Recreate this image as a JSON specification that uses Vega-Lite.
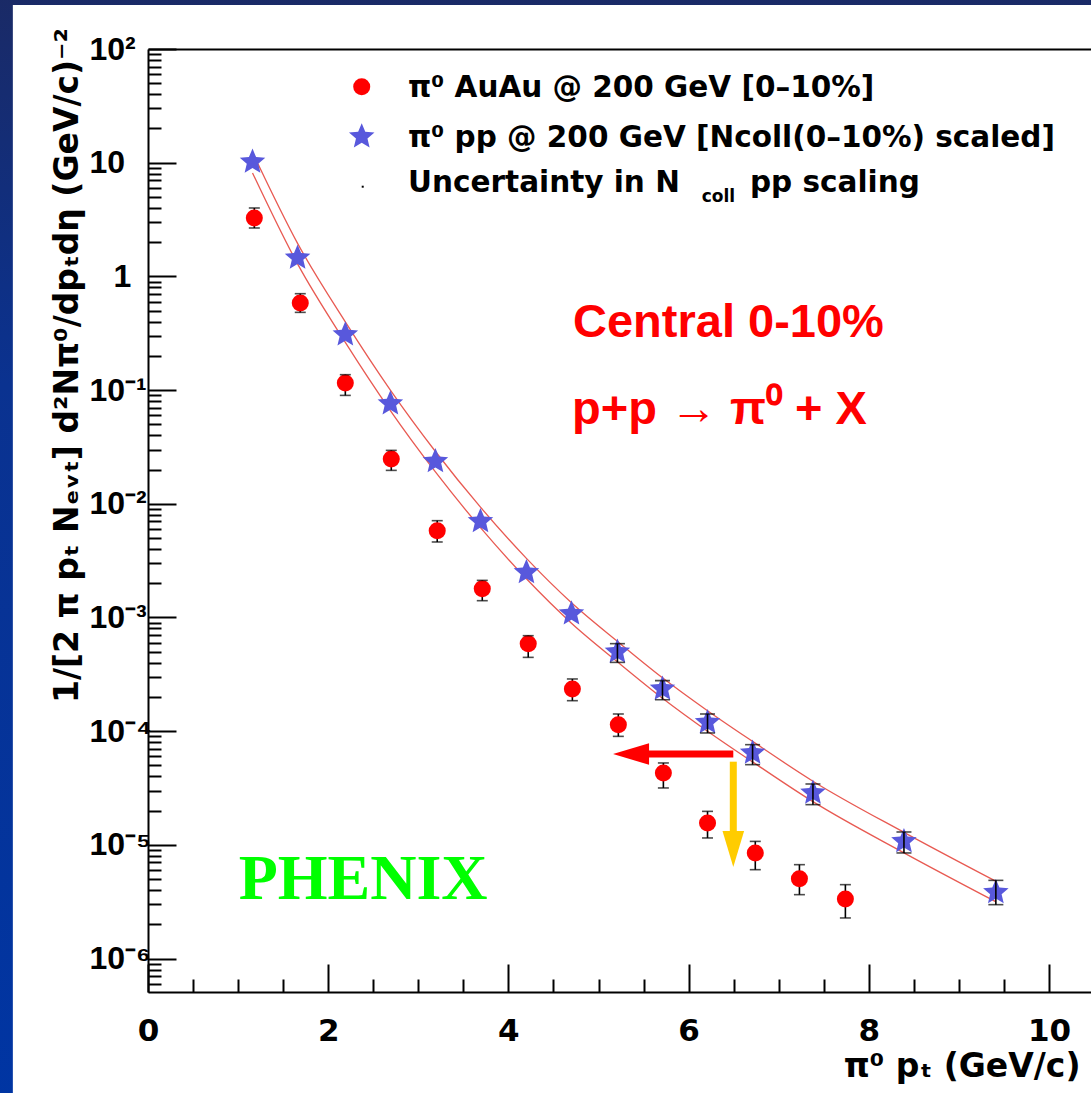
{
  "$schema": "https://vega.github.io/schema/vega-lite/v6.json",
  "width": 943,
  "height": 943,
  "autosize": {"type": "none"},
  "padding": {"left": 148, "top": 49, "right": 0, "bottom": 101},
  "background": "#0d2f8c",
  "config": {
    "view": {"stroke": null},
    "axis": {"grid": false, "domainColor": "black", "tickColor": "black", "labelColor": "black", "titleColor": "black"}
  },
  "datasets": {
    "auau": [
      {"pt": 1.18, "y": 3.263, "ylo": 2.665, "yhi": 3.996},
      {"pt": 1.69, "y": 0.5836, "ylo": 0.4826, "yhi": 0.7045},
      {"pt": 2.19, "y": 0.1155, "ylo": 0.0898, "yhi": 0.1366},
      {"pt": 2.70, "y": 0.02477, "ylo": 0.01967, "yhi": 0.02949},
      {"pt": 3.21, "y": 0.0058, "ylo": 0.004613, "yhi": 0.007102},
      {"pt": 3.71, "y": 0.001792, "ylo": 0.001405, "yhi": 0.00212},
      {"pt": 4.22, "y": 0.0005884, "ylo": 0.0004458, "yhi": 0.0006916},
      {"pt": 4.71, "y": 0.000235, "ylo": 0.0001854, "yhi": 0.0002878},
      {"pt": 5.22, "y": 0.0001141, "ylo": 0.00009, "yhi": 0.0001416},
      {"pt": 5.72, "y": 0.00004288, "ylo": 0.00003166, "yhi": 0.00005253},
      {"pt": 6.21, "y": 0.00001558, "ylo": 0.0000115, "yhi": 0.00001971},
      {"pt": 6.74, "y": 0.000008489, "ylo": 0.00000605, "yhi": 0.00001073},
      {"pt": 7.23, "y": 0.000005043, "ylo": 0.000003648, "yhi": 0.000006696},
      {"pt": 7.74, "y": 0.000003343, "ylo": 0.000002276, "yhi": 0.000004467}
    ],
    "pp": [
      {"pt": 1.16, "y": 10.14, "ylo": null, "yhi": null},
      {"pt": 1.66, "y": 1.451, "ylo": null, "yhi": null},
      {"pt": 2.19, "y": 0.3071, "ylo": null, "yhi": null},
      {"pt": 2.69, "y": 0.07596, "ylo": null, "yhi": null},
      {"pt": 3.19, "y": 0.0236, "ylo": null, "yhi": null},
      {"pt": 3.69, "y": 0.007001, "ylo": null, "yhi": null},
      {"pt": 4.20, "y": 0.002493, "ylo": null, "yhi": null},
      {"pt": 4.70, "y": 0.00108, "ylo": null, "yhi": null},
      {"pt": 5.21, "y": 0.0004972, "ylo": 0.0004027, "yhi": 0.0005884},
      {"pt": 5.71, "y": 0.000235, "ylo": 0.0001892, "yhi": 0.0002781},
      {"pt": 6.21, "y": 0.0001195, "ylo": 0.00009643, "yhi": 0.0001416},
      {"pt": 6.71, "y": 0.0000643, "ylo": 0.00005075, "yhi": 0.00007607},
      {"pt": 7.38, "y": 0.00002861, "ylo": 0.00002258, "yhi": 0.00003431},
      {"pt": 8.39, "y": 0.00001073, "ylo": 0.000008489, "yhi": 0.00001298},
      {"pt": 9.41, "y": 0.00000382, "ylo": 0.000002979, "yhi": 0.000004873}
    ],
    "band": [
      {"pt": 1.16, "bound": "upper", "y": 12.30},
      {"pt": 1.66, "bound": "upper", "y": 1.950},
      {"pt": 2.19, "bound": "upper", "y": 0.3981},
      {"pt": 2.69, "bound": "upper", "y": 0.1000},
      {"pt": 3.19, "bound": "upper", "y": 0.02884},
      {"pt": 3.69, "bound": "upper", "y": 0.009333},
      {"pt": 4.20, "bound": "upper", "y": 0.003311},
      {"pt": 4.70, "bound": "upper", "y": 0.001349},
      {"pt": 5.21, "bound": "upper", "y": 0.0006166},
      {"pt": 5.71, "bound": "upper", "y": 0.0002951},
      {"pt": 6.21, "bound": "upper", "y": 0.0001514},
      {"pt": 6.71, "bound": "upper", "y": 0.00008128},
      {"pt": 7.38, "bound": "upper", "y": 0.00003631},
      {"pt": 8.39, "bound": "upper", "y": 0.00001288},
      {"pt": 9.41, "bound": "upper", "y": 0.000004786},
      {"pt": 1.16, "bound": "lower", "y": 8.128},
      {"pt": 1.66, "bound": "lower", "y": 1.288},
      {"pt": 2.19, "bound": "lower", "y": 0.2630},
      {"pt": 2.69, "bound": "lower", "y": 0.06607},
      {"pt": 3.19, "bound": "lower", "y": 0.01905},
      {"pt": 3.69, "bound": "lower", "y": 0.006166},
      {"pt": 4.20, "bound": "lower", "y": 0.002188},
      {"pt": 4.70, "bound": "lower", "y": 0.0008913},
      {"pt": 5.21, "bound": "lower", "y": 0.0004074},
      {"pt": 5.71, "bound": "lower", "y": 0.000195},
      {"pt": 6.21, "bound": "lower", "y": 0.0001},
      {"pt": 6.71, "bound": "lower", "y": 0.0000537},
      {"pt": 7.38, "bound": "lower", "y": 0.00002399},
      {"pt": 8.39, "bound": "lower", "y": 0.000008511},
      {"pt": 9.41, "bound": "lower", "y": 0.000003162}
    ],
    "legendText": [
      {"x": 2.886, "y": 37.6, "label": "π⁰ AuAu @ 200 GeV [0–10%]"},
      {"x": 2.886, "y": 13.83, "label": "π⁰ pp @ 200 GeV [Ncoll(0–10%) scaled]"},
      {"x": 2.886, "y": 5.557, "label": "Uncertainty in N"},
      {"x": 6.681, "y": 5.557, "label": "pp scaling"}
    ]
  },
  "resolve": {"axis": {"x": "independent", "y": "independent"}},
  "layer": [
    {
      "data": {"values": [{}]},
      "mark": {"type": "rect", "fill": {"gradient": "linear", "x1": 0, "y1": 0, "x2": 0, "y2": 1, "stops": [{"offset": 0, "color": "#1a2a66"}, {"offset": 0.35, "color": "#0a3290"}, {"offset": 1, "color": "#0035a3"}]}},
      "encoding": {
        "x": {"datum": -2, "type": "quantitative", "scale": {"type": "linear", "domain": [0, 10.466], "nice": false, "zero": false}, "axis": null},
        "x2": {"datum": 12},
        "y": {"datum": 300, "type": "quantitative", "scale": {"type": "log", "domain": [5.08e-7, 100], "nice": false}, "axis": null},
        "y2": {"datum": 5e-8}
      }
    },
    {
      "data": {"values": [{}]},
      "mark": {"type": "rect", "fill": "white"},
      "encoding": {
        "x": {"datum": -1.5, "type": "quantitative", "axis": null},
        "x2": {"datum": 12},
        "y": {"datum": 244, "type": "quantitative", "axis": null},
        "y2": {"datum": 1e-8}
      }
    },
    {
      "data": {"name": "band"},
      "mark": {"type": "line", "color": "#e85a52", "strokeWidth": 1.3, "interpolate": "monotone"},
      "encoding": {
        "x": {"field": "pt", "type": "quantitative", "scale": {"type": "linear", "domain": [0, 10.466], "nice": false, "zero": false},
          "axis": {"orient": "bottom", "values": [0.5, 1, 1.5, 2.5, 3, 3.5, 4.5, 5, 5.5, 6.5, 7, 7.5, 8.5, 9, 9.5], "tickSize": -13, "tickWidth": 2, "labels": false, "domain": false, "title": null, "zindex": 1}},
        "y": {"field": "y", "type": "quantitative", "scale": {"type": "log", "domain": [5.08e-7, 100], "nice": false},
          "axis": {"orient": "left", "values": [6e-7, 7e-7, 8e-7, 9e-7, 2e-6, 3e-6, 4e-6, 5e-6, 6e-6, 7e-6, 8e-6, 9e-6, 2e-5, 3e-5, 4e-5, 5e-5, 6e-5, 7e-5, 8e-5, 9e-5, 2e-4, 3e-4, 4e-4, 5e-4, 6e-4, 7e-4, 8e-4, 9e-4, 0.002, 0.003, 0.004, 0.005, 0.006, 0.007, 0.008, 0.009, 0.02, 0.03, 0.04, 0.05, 0.06, 0.07, 0.08, 0.09, 0.2, 0.3, 0.4, 0.5, 0.6, 0.7, 0.8, 0.9, 2, 3, 4, 5, 6, 7, 8, 9, 20, 30, 40, 50, 60, 70, 80, 90], "tickSize": -13, "tickWidth": 2, "labels": false, "domain": false, "title": null, "zindex": 1}},
        "detail": {"field": "bound", "type": "nominal"}
      }
    },
    {
      "data": {"name": "auau"},
      "mark": {"type": "rule", "color": "black", "strokeWidth": 1.6},
      "encoding": {
        "x": {"field": "pt", "type": "quantitative", "axis": null},
        "y": {"field": "ylo", "type": "quantitative", "axis": null},
        "y2": {"field": "yhi"}
      }
    },
    {
      "data": {"name": "auau"},
      "mark": {"type": "point", "shape": "circle", "filled": true, "color": "#ff0000", "opacity": 1, "size": 290},
      "encoding": {
        "x": {"field": "pt", "type": "quantitative", "scale": {"type": "linear", "domain": [0, 10.466], "nice": false, "zero": false},
          "axis": {"orient": "bottom", "values": [0, 2, 4, 6, 8, 10], "tickSize": -28, "tickWidth": 2, "domain": true, "domainWidth": 2,
            "labelFont": "DejaVu Sans", "labelFontWeight": "bold", "labelFontSize": 31, "labelBaseline": "alphabetic", "labelPadding": 76, "labelFlush": false, "labelOverlap": false,
            "title": "π⁰ pₜ (GeV/c)", "titleFont": "DejaVu Sans", "titleFontWeight": "bold", "titleFontSize": 33, "titleAlign": "right", "titleAnchor": "end", "titleBaseline": "alphabetic", "titleX": 932, "titleY": 84, "zindex": 1}},
        "y": {"field": "y", "type": "quantitative", "scale": {"type": "log", "domain": [5.08e-7, 100], "nice": false},
          "axis": {"orient": "left", "values": [1e-6, 1e-5, 1e-4, 0.001, 0.01, 0.1, 1, 10, 100], "tickSize": -28, "tickWidth": 2, "domain": true, "domainWidth": 2,
            "labelExpr": "round(log(datum.value)/LN10) == 2 ? '10²' : round(log(datum.value)/LN10) == 1 ? '10' : round(log(datum.value)/LN10) == 0 ? '1' : '10⁻' + ['⁰','¹','²','³','⁴','⁵','⁶','⁷'][-round(log(datum.value)/LN10)]",
            "labelFont": "Liberation Sans", "labelFontWeight": "bold", "labelFontSize": 32, "labelAlign": "left", "labelBaseline": "middle",
            "labelPadding": {"condition": {"test": "datum.value == 1", "value": 63}, "value": 87},
            "labelOverlap": false, "labelFlush": false,
            "title": "1/[2 π pₜ Nₑᵥₜ] d²Nπ⁰/dpₜdη (GeV/c)⁻²", "titleFont": "DejaVu Sans", "titleFontWeight": "bold", "titleFontSize": 33, "titleAngle": 270, "titleAlign": "center", "titleBaseline": "alphabetic", "titleX": -71, "titleY": 316, "zindex": 1}}
      }
    },
    {
      "data": {"name": "auau"},
      "transform": [{"fold": ["ylo", "yhi"], "as": ["end", "yv"]}],
      "mark": {"type": "tick", "orient": "horizontal", "color": "black", "size": 11, "thickness": 1.6},
      "encoding": {
        "x": {"field": "pt", "type": "quantitative", "axis": null},
        "y": {"field": "yv", "type": "quantitative", "axis": null}
      }
    },
    {
      "data": {"name": "pp"},
      "mark": {"type": "point", "shape": "M0,-1L0.2645,-0.364L0.9511,-0.309L0.428,0.139L0.5878,0.809L0,0.45L-0.5878,0.809L-0.428,0.139L-0.9511,-0.309L-0.2645,-0.364Z", "filled": true, "color": "#5858dc", "opacity": 1, "size": 720},
      "encoding": {
        "x": {"field": "pt", "type": "quantitative", "scale": {"type": "linear", "domain": [0, 10.466], "nice": false, "zero": false},
          "axis": {"orient": "top", "domain": true, "domainWidth": 2, "ticks": false, "labels": false, "title": null, "zindex": 1}},
        "y": {"field": "y", "type": "quantitative", "axis": null}
      }
    },
    {
      "data": {"name": "pp"},
      "transform": [{"filter": "isValid(datum.ylo)"}],
      "mark": {"type": "rule", "color": "black", "strokeWidth": 1.6},
      "encoding": {
        "x": {"field": "pt", "type": "quantitative", "axis": null},
        "y": {"field": "ylo", "type": "quantitative", "axis": null},
        "y2": {"field": "yhi"}
      }
    },
    {
      "data": {"name": "pp"},
      "transform": [{"filter": "isValid(datum.ylo)"}, {"fold": ["ylo", "yhi"], "as": ["end", "yv"]}],
      "mark": {"type": "tick", "orient": "horizontal", "color": "black", "size": 15, "thickness": 1.6},
      "encoding": {
        "x": {"field": "pt", "type": "quantitative", "axis": null},
        "y": {"field": "yv", "type": "quantitative", "axis": null}
      }
    },
    {
      "data": {"values": [{"x": 2.372, "y": 46.6}]},
      "mark": {"type": "point", "shape": "circle", "filled": true, "color": "#ff0000", "opacity": 1, "size": 290},
      "encoding": {
        "x": {"field": "x", "type": "quantitative", "axis": null},
        "y": {"field": "y", "type": "quantitative", "axis": null}
      }
    },
    {
      "data": {"values": [{"x": 2.372, "y": 16.93}]},
      "mark": {"type": "point", "shape": "M0,-1L0.2645,-0.364L0.9511,-0.309L0.428,0.139L0.5878,0.809L0,0.45L-0.5878,0.809L-0.428,0.139L-0.9511,-0.309L-0.2645,-0.364Z", "filled": true, "color": "#5858dc", "opacity": 1, "size": 720},
      "encoding": {
        "x": {"field": "x", "type": "quantitative", "axis": null},
        "y": {"field": "y", "type": "quantitative", "axis": null}
      }
    },
    {
      "data": {"values": [{"x": 2.383, "y": 6.15}]},
      "mark": {"type": "point", "shape": "square", "filled": true, "color": "black", "opacity": 1, "size": 4},
      "encoding": {
        "x": {"field": "x", "type": "quantitative", "axis": null},
        "y": {"field": "y", "type": "quantitative", "axis": null}
      }
    },
    {
      "data": {"name": "legendText"},
      "mark": {"type": "text", "font": "DejaVu Sans", "fontWeight": "bold", "fontSize": 29.5, "align": "left", "baseline": "alphabetic", "color": "black"},
      "encoding": {
        "x": {"field": "x", "type": "quantitative", "axis": null},
        "y": {"field": "y", "type": "quantitative", "axis": null},
        "text": {"field": "label"}
      }
    },
    {
      "data": {"values": [{"x": 6.145, "y": 4.54, "label": "coll"}]},
      "mark": {"type": "text", "font": "DejaVu Sans", "fontWeight": "bold", "fontSize": 17, "align": "left", "baseline": "alphabetic", "color": "black"},
      "encoding": {
        "x": {"field": "x", "type": "quantitative", "axis": null},
        "y": {"field": "y", "type": "quantitative", "axis": null},
        "text": {"field": "label"}
      }
    },
    {
      "data": {"values": [{"x": 4.717, "y": 0.2931, "label": "Central 0-10%"}, {"x": 4.706, "y": 0.0503, "label": "p+p → π⁰ + X"}]},
      "mark": {"type": "text", "font": "Liberation Sans", "fontWeight": "bold", "fontSize": 47, "align": "left", "baseline": "alphabetic", "color": "#ff0000"},
      "encoding": {
        "x": {"field": "x", "type": "quantitative", "axis": null},
        "y": {"field": "y", "type": "quantitative", "axis": null},
        "text": {"field": "label"}
      }
    },
    {
      "data": {"values": [{"x": 1.006, "y": 3.343e-6, "label": "PHENIX"}]},
      "mark": {"type": "text", "font": "Liberation Serif", "fontWeight": "bold", "fontSize": 64, "align": "left", "baseline": "alphabetic", "color": "#00ff00"},
      "encoding": {
        "x": {"field": "x", "type": "quantitative", "axis": null},
        "y": {"field": "y", "type": "quantitative", "axis": null},
        "text": {"field": "label"}
      }
    },
    {
      "data": {"values": [{"x": 6.496, "x2": 5.52, "y": 6.3e-5}]},
      "mark": {"type": "rule", "color": "#ff0000", "strokeWidth": 7},
      "encoding": {
        "x": {"field": "x", "type": "quantitative", "axis": null},
        "x2": {"field": "x2"},
        "y": {"field": "y", "type": "quantitative", "axis": null}
      }
    },
    {
      "data": {"values": [{"x": 5.361, "y": 6.3e-5}]},
      "mark": {"type": "point", "shape": "M-1,0L1,-0.6L1,0.6Z", "filled": true, "color": "#ff0000", "opacity": 1, "size": 1296},
      "encoding": {
        "x": {"field": "x", "type": "quantitative", "axis": null},
        "y": {"field": "y", "type": "quantitative", "axis": null}
      }
    },
    {
      "data": {"values": [{"x": 6.496, "y": 5.39e-5, "y2": 1.22e-5}]},
      "mark": {"type": "rule", "color": "#ffcc00", "strokeWidth": 7},
      "encoding": {
        "x": {"field": "x", "type": "quantitative", "axis": null},
        "y": {"field": "y", "type": "quantitative", "axis": null},
        "y2": {"field": "y2"}
      }
    },
    {
      "data": {"values": [{"x": 6.496, "y": 9.2e-6}]},
      "mark": {"type": "point", "shape": "M0,1L-0.6,-1L0.6,-1Z", "filled": true, "color": "#ffcc00", "opacity": 1, "size": 1296},
      "encoding": {
        "x": {"field": "x", "type": "quantitative", "axis": null},
        "y": {"field": "y", "type": "quantitative", "axis": null}
      }
    }
  ]
}
